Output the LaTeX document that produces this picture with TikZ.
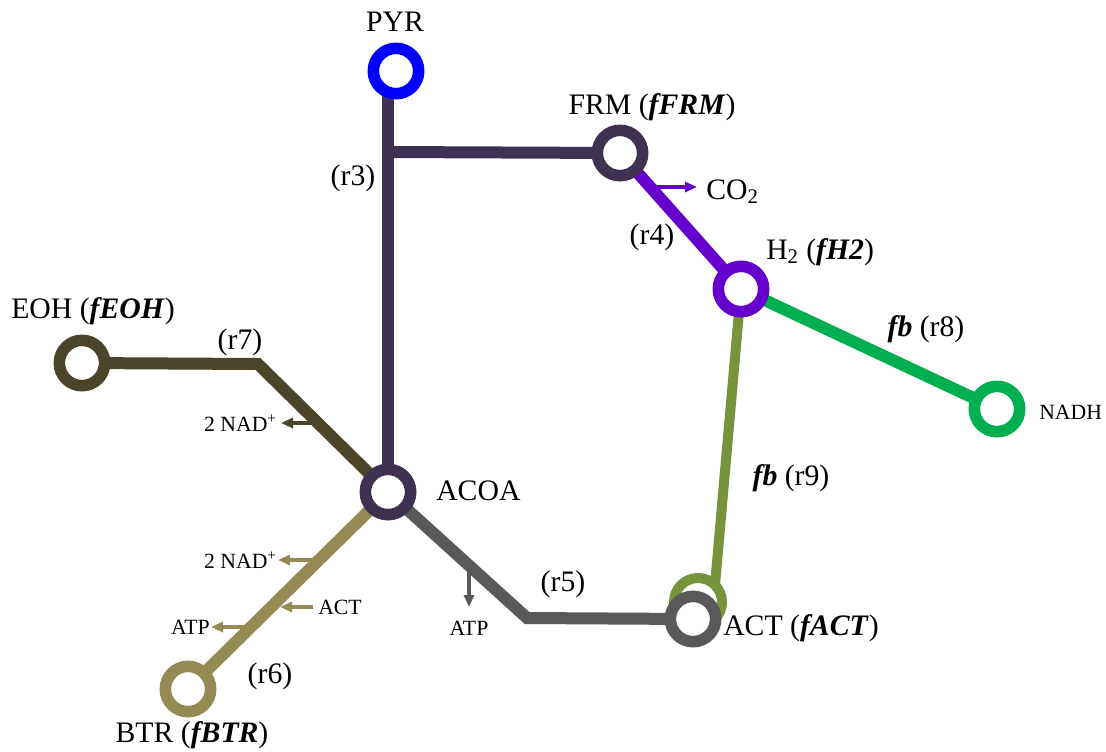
\documentclass[tikz,border=0pt]{standalone}
\usepackage{fontspec}
\setmainfont{Liberation Serif}
\usetikzlibrary{arrows.meta,calc}
\pgfdeclarelayer{bg}
\pgfsetlayers{bg,main}
\definecolor{cpyr}{HTML}{0000FF}
\definecolor{cdark}{HTML}{3F3151}
\definecolor{cpur}{HTML}{6600CC}
\definecolor{cgreen}{HTML}{00B050}
\definecolor{colive}{HTML}{77933C}
\definecolor{ceoh}{HTML}{4A4429}
\definecolor{cbtr}{HTML}{948A54}
\definecolor{cgrey}{HTML}{595959}
\newcommand{\fbi}[1]{\textbf{\textit{#1}}}
\begin{document}
\begin{tikzpicture}[x=0.75pt,y=-0.75pt,
  ring/.style={circle,draw,fill=white,line width=8.7pt,minimum size=34pt,inner sep=0pt},
  mainline/.style={line width=9pt},
  lab/.style={font=\fontsize{22.3}{25}\selectfont,inner sep=0pt},
  slab/.style={font=\fontsize{16.3}{18}\selectfont,inner sep=0pt},
  sarr/.style={line width=3.3pt,-{Triangle[length=9pt,width=7.5pt]}}]
\path[use as bounding box] (0,0) rectangle (1106,751);

% metabolite rings
\node[ring,draw=cpyr] (PYR) at (396,71) {};
\node[ring,draw=cdark] (FRM) at (620,153) {};
\node[ring,draw=cpur] (H2) at (741,289) {};
\node[ring,draw=cgreen] (NADH) at (997,409) {};
\node[ring,draw=ceoh] (EOH) at (82,363) {};
\node[ring,draw=cdark] (ACOA) at (388,492) {};
\node[ring,draw=cbtr] (BTR) at (188,689) {};
\node[ring,draw=colive,line width=7.5pt,minimum size=36pt] (ACTg) at (698,602) {};
\node[ring,draw=cgrey] (ACT) at (693,619) {};

% reaction lines
\begin{pgfonlayer}{bg}
\coordinate (j3) at (388,152);
\coordinate (b7) at (258,364);
\coordinate (b5) at (527,618);
\draw[mainline,cdark] (PYR.center -| ACOA.center) -- (ACOA.center);
\draw[mainline,cdark] (j3) -- (FRM.center);
\draw[mainline,cpur] (FRM.center) -- (H2.center);
\draw[mainline,cgreen] (H2.center) -- (NADH.center);
\draw[line width=7.5pt,colive] (H2.center) -- ($(ACTg.center)+(17,-17)$);
\draw[mainline,ceoh] (EOH.center) -- (b7) -- (ACOA.center);
\draw[mainline,cbtr] (ACOA.center) -- (BTR.center);
\draw[mainline,cgrey] (ACOA.center) -- (b5) -- (ACT.center);

% side arrows
\coordinate (sCO) at (650,187);  \coordinate (tCO) at (697,187);
\coordinate (s7) at (318,423);   \coordinate (t7) at (281,423);
\coordinate (s6a) at (319,560);  \coordinate (t6a) at (278,560);
\coordinate (s6b) at (313,607);  \coordinate (t6b) at (280,607);
\coordinate (s6c) at (251,627);  \coordinate (t6c) at (211,627);
\coordinate (s5) at (469,565);   \coordinate (t5) at (469,607);
\draw[sarr,cpur] (sCO) -- (tCO);
\draw[sarr,ceoh] (s7) -- (t7);
\draw[sarr,cbtr] (s6a) -- (t6a);
\draw[sarr,cbtr] (s6b) -- (t6b);
\draw[sarr,cbtr] (s6c) -- (t6c);
\draw[sarr,cgrey] (s5) -- (t5);
\end{pgfonlayer}

% labels
\node[lab] (lPYR) at (395,22) {PYR};
\node[lab] (lFRM) at (652,107) {FRM (\fbi{fFRM})};
\node[lab] (lr3) at (353,178) {(r3)};
\node[lab] (lr4) at (652,237) {(r4)};
\node[lab,anchor=west] (lCO) at (706,192) {CO\textsubscript{2}};
\node[lab,anchor=west] (lH2) at (766,252) {H\textsubscript{2} (\fbi{fH2})};
\node[lab] (lr8) at (926,329) {\fbi{fb} (r8)};
\node[slab,anchor=west] (lNADH) at (1039,412) {NADH};
\node[lab] (lr9) at (791,478) {\fbi{fb} (r9)};
\node[lab] (lEOH) at (93,311) {EOH (\fbi{fEOH})};
\node[lab] (lr7) at (240,342) {(r7)};
\node[slab,anchor=east] (lnad7) at (277,423) {2 NAD\textsuperscript{+}};
\node[lab,anchor=west] (lACOA) at (436,491) {ACOA};
\node[slab,anchor=east] (lnad6) at (277,560) {2 NAD\textsuperscript{+}};
\node[slab,anchor=west] (lact6) at (318,607) {ACT};
\node[slab,anchor=east] (latp6) at (210,627) {ATP};
\node[slab] (latp5) at (469,628) {ATP};
\node[lab] (lr5) at (563,584) {(r5)};
\node[lab] (lr6) at (270,676) {(r6)};
\node[lab] (lBTR) at (192,735) {BTR (\fbi{fBTR})};
\node[lab,anchor=west] (lACT) at (723,628) {ACT (\fbi{fACT})};
\end{tikzpicture}
\end{document}
